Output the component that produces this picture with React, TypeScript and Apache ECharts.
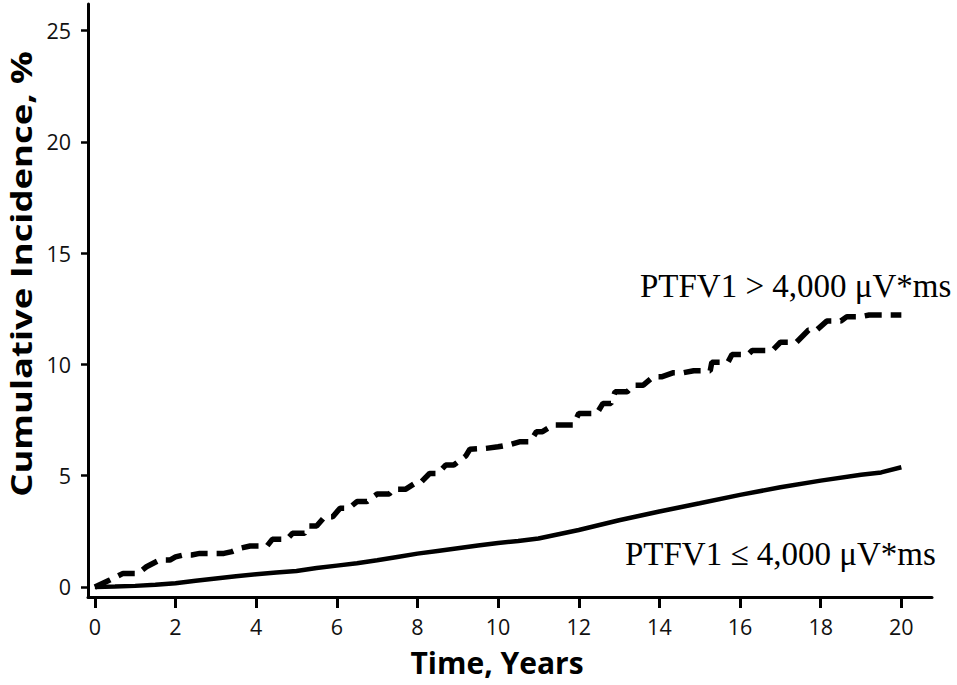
import React, { useEffect, useRef } from "react";
import * as echarts from "echarts";

// Time (years) and cumulative incidence (%) for PTFV1 > 4,000 µV*ms (dashed)
const highTime = [0, 0.37, 0.7, 1.07, 1.28, 1.6, 1.86, 2.0, 2.2, 2.4, 2.6, 3.2, 3.4, 3.6, 3.85, 4.27, 4.4, 4.76, 4.9, 5.2, 5.3, 5.5, 5.7, 5.9, 6.08, 6.3, 6.5, 6.75, 7.0, 7.3, 7.4, 7.7, 8.0, 8.1, 8.3, 8.5, 8.7, 8.9, 9.2, 9.3, 9.7, 10.0, 10.3, 10.55, 10.8, 10.95, 11.1, 11.37, 11.87, 12.0, 12.45, 12.6, 12.8, 12.9, 13.2, 13.36, 13.6, 13.85, 14.07, 14.35, 14.6, 14.85, 15.26, 15.3, 15.7, 15.8, 16.2, 16.3, 16.8, 17.0, 17.4, 17.7, 17.9, 18.15, 18.5, 18.65, 19.0, 19.2, 20.0];
const highValues = [0, 0.31, 0.61, 0.61, 0.91, 1.21, 1.21, 1.35, 1.44, 1.44, 1.51, 1.51, 1.59, 1.74, 1.84, 1.84, 2.14, 2.14, 2.41, 2.41, 2.74, 2.74, 3.16, 3.16, 3.54, 3.54, 3.84, 3.84, 4.18, 4.18, 4.39, 4.39, 4.73, 4.73, 5.1, 5.1, 5.48, 5.48, 5.89, 6.19, 6.23, 6.3, 6.4, 6.53, 6.53, 6.98, 6.98, 7.28, 7.28, 7.8, 7.8, 8.25, 8.25, 8.77, 8.77, 9.07, 9.07, 9.45, 9.45, 9.63, 9.63, 9.72, 9.72, 10.1, 10.1, 10.45, 10.45, 10.63, 10.63, 11.0, 11.0, 11.55, 11.55, 11.95, 11.95, 12.15, 12.15, 12.22, 12.22];

// Time (years) and cumulative incidence (%) for PTFV1 ≤ 4,000 µV*ms (solid)
const lowTime = [0, 0.5, 1, 1.5, 2, 2.5, 3, 3.5, 4, 4.5, 5, 5.5, 6, 6.5, 7, 7.5, 8, 8.5, 9, 9.5, 10, 10.5, 11, 12, 13, 14, 15, 16, 17, 18, 19, 19.5, 20];
const lowValues = [0, 0.02, 0.05, 0.1, 0.17, 0.28, 0.38, 0.48, 0.57, 0.65, 0.72, 0.85, 0.96, 1.07, 1.2, 1.35, 1.5, 1.62, 1.74, 1.86, 1.98, 2.07, 2.18, 2.56, 3.0, 3.39, 3.76, 4.14, 4.48, 4.78, 5.04, 5.15, 5.38];

const xTicks = [0, 2, 4, 6, 8, 10, 12, 14, 16, 18, 20];
const yTicks = [0, 5, 10, 15, 20, 25];

const highLabel = "PTFV1 > 4,000 \u03bcV*ms";
const lowLabel = "PTFV1 \u2264 4,000 \u03bcV*ms";
const xTitle = "Time, Years";
const yTitle = "Cumulative Incidence, %";

export default function App() {
  const ref = useRef<HTMLDivElement>(null);

  useEffect(() => {
    if (!ref.current) return;
    const chart = echarts.init(ref.current, undefined, { renderer: "svg" });
    const highData = highTime.map((t, i) => [t, highValues[i]]);
    const lowData = lowTime.map((t, i) => [t, lowValues[i]]);
    const tickFont = '"Open Sans", "Liberation Sans", sans-serif';

    chart.setOption({
      animation: false,
      backgroundColor: "#ffffff",
      grid: {
        left: 88,
        right: 25,
        top: 4,
        bottom: 88,
        containLabel: false,
        outerBoundsMode: "none",
      },
      xAxis: {
        type: "value",
        min: -0.17,
        max: 20.76,
        axisLine: { show: true, onZero: false, lineStyle: { color: "#000", width: 3 } },
        axisTick: {
          show: true,
          customValues: xTicks,
          length: 11,
          lineStyle: { color: "#000", width: 3 },
        },
        axisLabel: {
          customValues: xTicks,
          color: "#111",
          fontSize: 21.5,
          fontFamily: tickFont,
          margin: 18,
        },
        splitLine: { show: false },
      },
      yAxis: {
        type: "value",
        min: -0.45,
        max: 26.2,
        axisLine: { show: true, onZero: false, lineStyle: { color: "#000", width: 3 } },
        axisTick: {
          show: true,
          customValues: yTicks,
          length: 7,
          lineStyle: { color: "#000", width: 2.5 },
        },
        axisLabel: {
          customValues: yTicks,
          color: "#111",
          fontSize: 21.5,
          fontFamily: tickFont,
          margin: 17,
        },
        splitLine: { show: false },
      },
      series: [
        {
          type: "line",
          data: highData,
          symbol: "none",
          lineStyle: { color: "#000", width: 5.5, type: [17, 9], cap: "butt" },
          z: 3,
        },
        {
          type: "line",
          data: lowData,
          symbol: "none",
          lineStyle: { color: "#000", width: 4.5, type: "solid" },
          z: 3,
        },
      ],
      graphic: [
        {
          type: "text",
          x: 21,
          y: 274,
          rotation: Math.PI / 2,
          scaleX: 1.3,
          style: {
            text: yTitle,
            fill: "#000",
            font: 'bold 28px "Open Sans", "Liberation Sans", sans-serif',
            align: "center",
            verticalAlign: "middle",
          },
        },
        {
          type: "text",
          x: 497,
          y: 662,
          style: {
            text: xTitle,
            fill: "#000",
            font: 'bold 30px "Open Sans", "Liberation Sans", sans-serif',
            align: "center",
            verticalAlign: "middle",
          },
        },
        {
          type: "text",
          x: 640,
          y: 285.6,
          style: {
            text: highLabel,
            fill: "#000",
            font: '33px "Liberation Serif", "Times New Roman", serif',
            align: "left",
            verticalAlign: "middle",
          },
        },
        {
          type: "text",
          x: 625,
          y: 554,
          style: {
            text: lowLabel,
            fill: "#000",
            font: '33px "Liberation Serif", "Times New Roman", serif',
            align: "left",
            verticalAlign: "middle",
          },
        },
      ],
    });

    return () => {
      chart.dispose();
    };
  }, []);

  return (
    <div
      ref={ref}
      style={{ position: "absolute", left: 0, top: 0, width: 957, height: 685, background: "#fff" }}
    />
  );
}
